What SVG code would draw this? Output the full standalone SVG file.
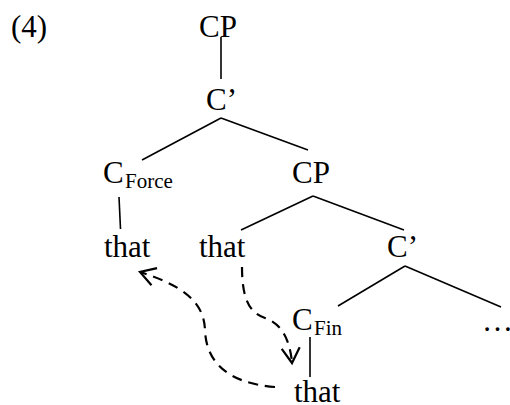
<svg xmlns="http://www.w3.org/2000/svg" width="510" height="405" viewBox="0 0 510 405">
<style>
text{font-family:"Liberation Serif","Times New Roman",serif;fill:#000}
.m{font-size:31px}
.s{font-size:21px}
.e{stroke:#000;stroke-width:1.6;fill:none}
.d{stroke:#000;stroke-width:2.2;fill:none;stroke-dasharray:10 7}
</style>
<defs>
<marker id="ah" markerUnits="userSpaceOnUse" viewBox="-20 -15 30 30" markerWidth="30" markerHeight="30" refX="0" refY="0" orient="auto">
<path d="M-15,-9 L0,0 L-15,9" fill="none" stroke="#000" stroke-width="2.2"/>
</marker>
</defs>
<text class="m" x="11" y="37">(4)</text>
<g id="cp1"><text class="m" x="199" y="37">CP</text></g>
<g id="cbar1"><text class="m" x="206" y="110">C’</text></g>
<g id="cforce"><text class="m" x="103" y="183">C</text><text class="s" x="125" y="188">Force</text></g>
<g id="cp2"><text class="m" x="292" y="183">CP</text></g>
<g id="that1"><text class="m" x="104" y="257">that</text></g>
<g id="that2"><text class="m" x="199" y="257">that</text></g>
<g id="cbar2"><text class="m" x="387" y="257">C’</text></g>
<g id="cfin"><text class="m" x="292" y="330">C</text><text class="s" x="314" y="335">Fin</text></g>
<g id="dots"><text class="m" x="482" y="331">…</text></g>
<g id="that3"><text class="m" x="294" y="402">that</text></g>
<g id="edges">
<line class="e" x1="221" y1="37" x2="221" y2="79"/>
<line class="e" x1="221" y1="118" x2="142" y2="160"/>
<line class="e" x1="221" y1="118" x2="308" y2="150"/>
<line class="e" x1="119" y1="197" x2="120.5" y2="229"/>
<line class="e" x1="313" y1="196" x2="241" y2="230"/>
<line class="e" x1="313" y1="196" x2="404" y2="230"/>
<line class="e" x1="405" y1="266" x2="338" y2="306"/>
<line class="e" x1="405" y1="266" x2="501" y2="307"/>
<line class="e" x1="310" y1="337" x2="310" y2="377"/>
<path class="d" d="M275,387 C225,383 206,360 205,330 C204,300 180,285 140,272" marker-end="url(#ah)"/>
<path class="d" d="M242,267 C242,300 250,313 265,318 C282,324 290,340 292,363" marker-end="url(#ah)"/>
</g>
</svg>
